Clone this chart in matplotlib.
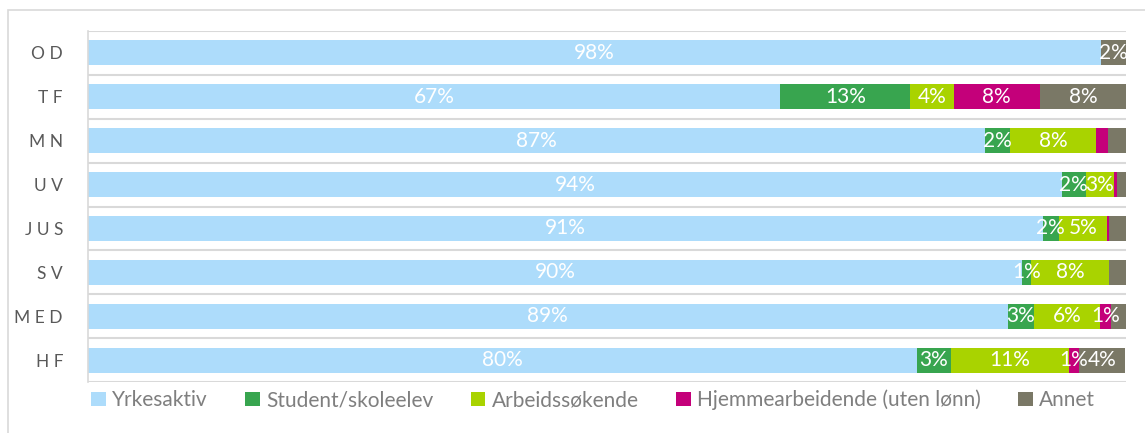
import matplotlib.pyplot as plt
import numpy as np
from matplotlib.patches import Rectangle

plt.rcParams['font.family'] = ['Lato', 'DejaVu Sans']

# faculties, top to bottom
categories = ['OD', 'TF', 'MN', 'UV', 'JUS', 'SV', 'MED', 'HF']
series = ['Yrkesaktiv', 'Student/skoleelev', 'Arbeidssøkende',
          'Hjemmearbeidende (uten lønn)', 'Annet']

yrkesaktiv = [97.6, 66.7, 86.4, 93.8, 92.0, 90.0, 88.6, 79.9]
student    = [0.0, 12.5, 2.4, 2.3, 1.5, 0.8, 2.5, 3.2]
arbeid     = [0.0, 4.2, 8.3, 2.7, 4.7, 7.6, 6.4, 11.4]
hjemme     = [0.0, 8.3, 1.2, 0.3, 0.2, 0.0, 1.1, 1.0]
annet      = [2.4, 8.3, 1.7, 0.9, 1.6, 1.6, 1.4, 4.4]

# printed labels (None = no label in the original)
lab_yrke    = [98, 67, 87, 94, 91, 90, 89, 80]
lab_student = [None, 13, 2, 2, 2, 1, 3, 3]
lab_arbeid  = [None, 4, 8, 3, 5, 8, 6, 11]
lab_hjemme  = [None, 8, None, None, None, None, 1, 1]
lab_annet   = [2, 8, None, None, None, None, None, 4]

colors = ['#ADDCFB', '#38A54F', '#A9D300', '#C4007A', '#7A7866']

values = [yrkesaktiv, student, arbeid, hjemme, annet]
labels = [lab_yrke, lab_student, lab_arbeid, lab_hjemme, lab_annet]

fig = plt.figure(figsize=(11.45, 4.33), dpi=100)
ax = fig.add_axes([88/1145, 1 - 382/433, (1126 - 88)/1145, (382 - 31)/433])

y = np.arange(len(categories))
left = np.zeros(len(categories))
for vals, labs, col, name in zip(values, labels, colors, series):
    vals = np.array(vals)
    ax.barh(y, vals, left=left, height=0.57, color=col, label=name)
    for i in range(len(categories)):
        if labs[i] is not None:
            ax.text(left[i] + vals[i]/2, y[i], '%d%%' % labs[i], ha='center',
                    va='center', color='white', fontsize=15)
    left += vals

ax.set_xlim(0, 100)
ax.set_ylim(len(categories) - 0.5, -0.5)
ax.hlines(np.arange(-0.5, len(categories)), 0, 100, color='#D9D9D9', lw=1.5, zorder=0)

for s in ['top', 'right', 'bottom']:
    ax.spines[s].set_visible(False)
ax.spines['left'].set_color('#D9D9D9')
ax.spines['left'].set_linewidth(1.2)
ax.set_xticks([])
ax.set_yticks(y)
ax.set_yticklabels([' '.join(c) for c in categories], color='#595959', fontsize=12.5)
ax.tick_params(axis='y', length=0, pad=18)

handles, hl = ax.get_legend_handles_labels()
fig.legend(handles, hl, loc='center', bbox_to_anchor=(0.518, 1 - 400/433), ncol=5,
           frameon=False, fontsize=15, labelcolor='#7F7F7F', handlelength=0.7,
           handleheight=0.7, handletextpad=0.3, columnspacing=1.8)

# outer chart border
fig.add_artist(Rectangle((8/1145, -0.1), 1.2, 1 - 10/433 + 0.1, transform=fig.transFigure,
                         fill=False, edgecolor='#D9D9D9', lw=1.2))

fig.savefig('out.png', dpi=100)
